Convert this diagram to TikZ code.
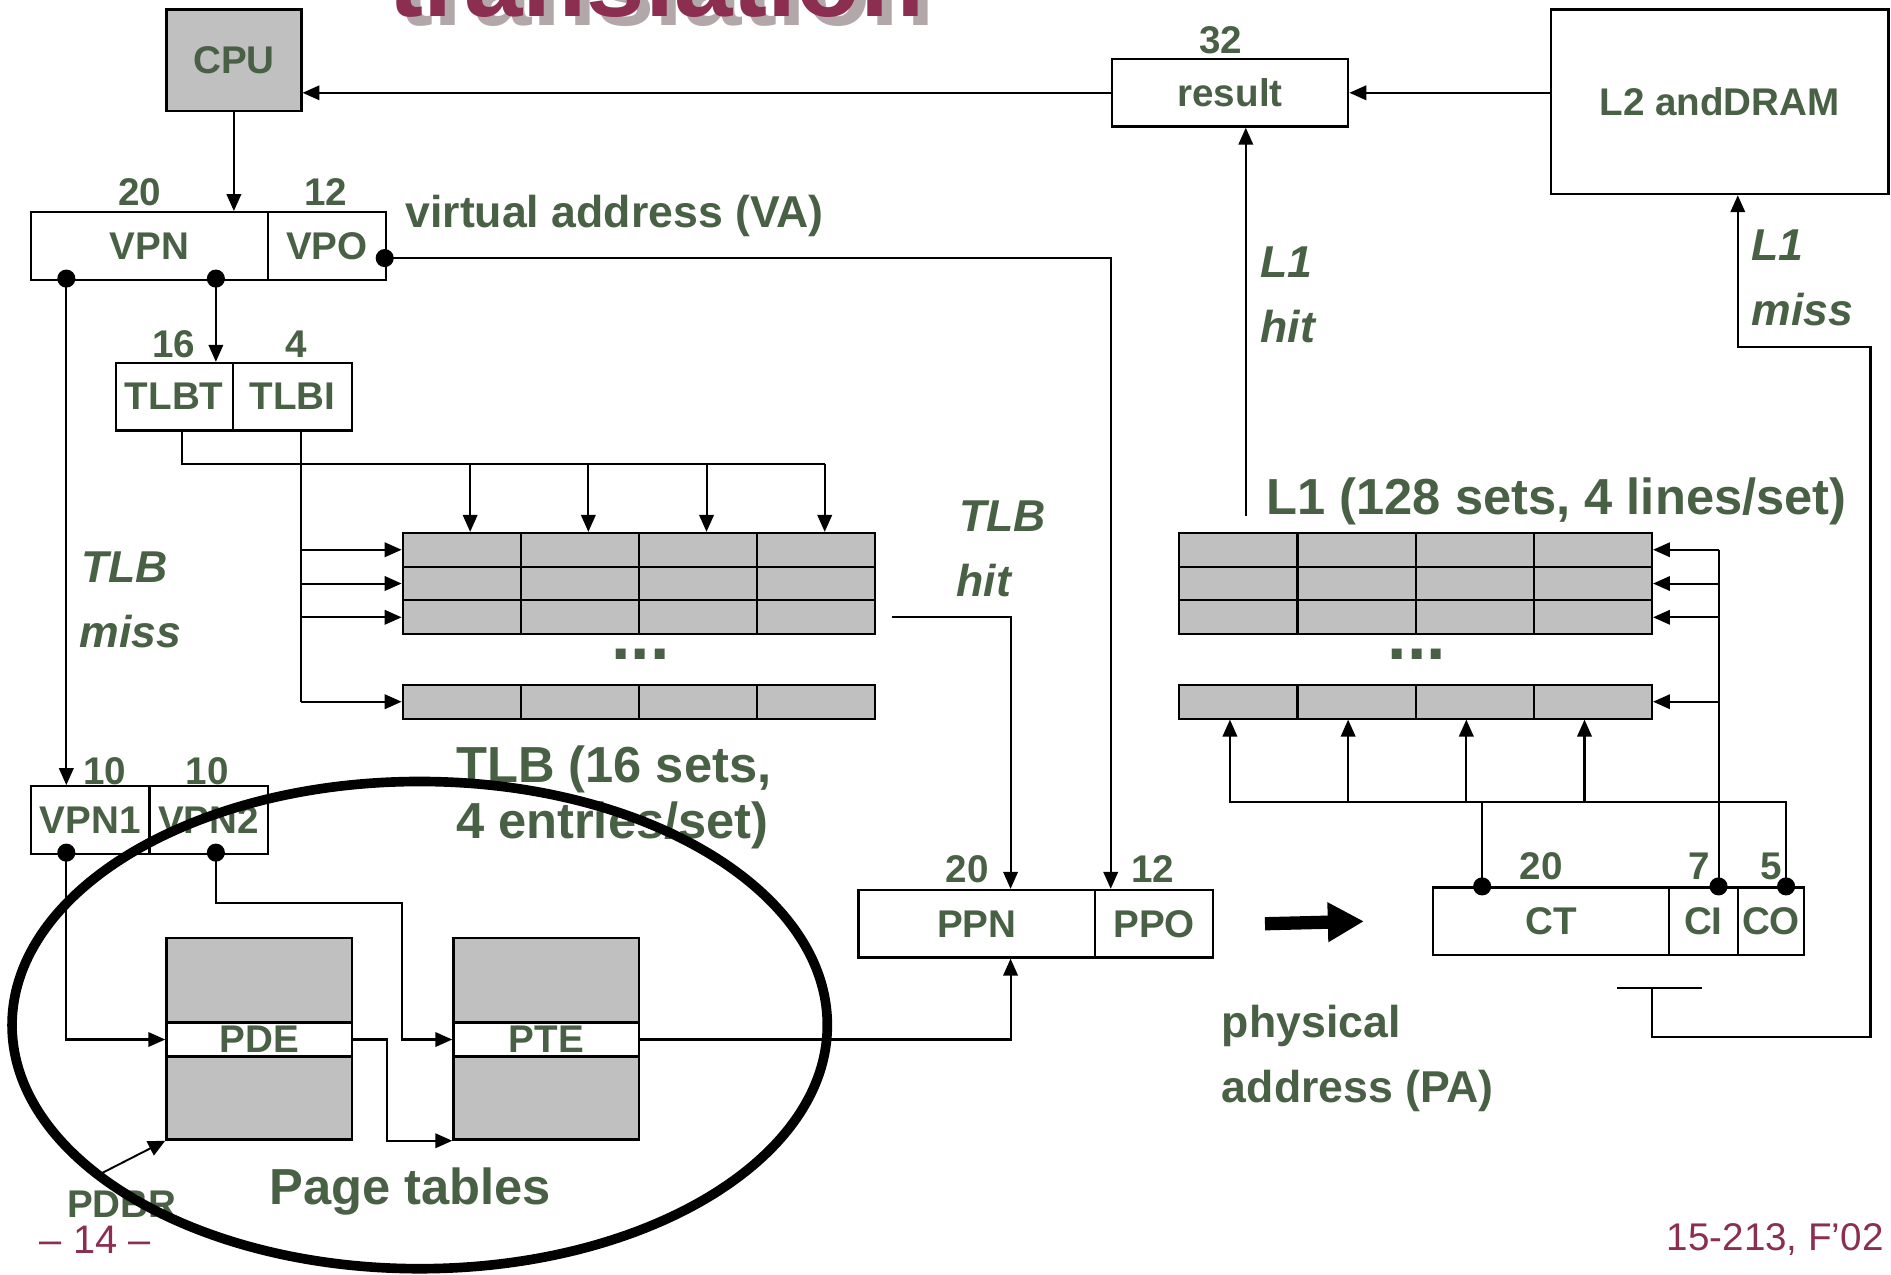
\documentclass[tikz,border=0pt]{standalone}
\usepackage{fontspec}
\setmainfont{Liberation Sans}
\usetikzlibrary{arrows.meta,calc}
\definecolor{tg}{RGB}{72,96,68}
\definecolor{cellgray}{RGB}{192,192,192}
\definecolor{maroonc}{RGB}{139,46,80}
\definecolor{shadowgray}{RGB}{178,168,170}
\newcommand\fsz[1]{\fontsize{#1}{#1}\selectfont\bfseries}
\begin{document}
\begin{tikzpicture}[x=1pt,y=-1pt,
  box/.style={draw, line width=1.9pt, inner sep=0pt, font=\fsz{32}, text=tg, anchor=north west, minimum height=56pt},
  cell/.style={draw, line width=1.7pt, fill=cellgray, minimum width=98pt, minimum height=28pt, inner sep=0pt, anchor=north west},
  lab/.style={text=tg, inner sep=0pt, font=\fsz{32}},
  labm/.style={text=tg, inner sep=0pt, font=\fsz{37}},
  labl/.style={text=tg, inner sep=0pt, font=\fsz{42}},
  labi/.style={text=tg, inner sep=0pt, font=\fsz{37}\itshape},
  ln/.style={line width=1.7pt},
  arr/.style={ln, -{Triangle[length=14pt,width=12pt]}},
  dotc/.style={fill=black}
]
\fill[white] (0,0) rectangle (1568,1057);
\useasboundingbox (0,0) rectangle (1568,1057);

% title fragment
\node[anchor=base west, inner sep=0pt, text=shadowgray, font=\fsz{87}] (titleshadow) at (330,21) {translation};
\node[anchor=base west, inner sep=0pt, text=maroonc, font=\fsz{87}] (title) at (322,14) {translation};

% top boxes
\node[box, fill=cellgray, minimum width=112pt, minimum height=84pt] (cpu) at (137,7) {CPU};
\node[box, minimum width=196pt] (result) at (921,48) {result};
\node[lab, anchor=base] (n32) at (1012,44.5) {32};
\node[box, minimum width=280pt, minimum height=153pt] (l2) at (1285,7) {L2 andDRAM};

% virtual address
\node[box, minimum width=196pt] (vpn) at (25,175) {VPN};
\node[box, minimum width=98pt] (vpo) at (221,175) {VPO};
\node[lab, anchor=base] (n20a) at (116,170.5) {20};
\node[lab, anchor=base] (n12a) at (270,170.5) {12};
\node[labm, anchor=base west] (valab) at (336,189) {virtual address (VA)};

% TLBT / TLBI
\node[box, minimum width=97pt] (tlbt) at (95,300) {TLBT};
\node[box, minimum width=99pt] (tlbi) at (192,300) {TLBI};
\node[lab, anchor=base] (n16) at (144,296.5) {16};
\node[lab, anchor=base] (n4) at (246,296.5) {4};

% TLB array
\foreach \r/\yy in {0/441,1/469,2/497,3/567}{
  \foreach \c in {0,1,2,3}{
    \node[cell] (t\r\c) at ({333+98*\c},\yy) {};
  }
}
\node[text=tg, inner sep=0pt, font=\fsz{58}, anchor=base] (tdots) at (531,547) {...};

% L1 array
\foreach \r/\yy in {0/441,1/469,2/497,3/567}{
  \foreach \c in {0,1,2,3}{
    \node[cell] (l\r\c) at ({977+98*\c},\yy) {};
  }
}
\node[text=tg, inner sep=0pt, font=\fsz{58}, anchor=base] (ldots) at (1175,547) {...};

% labels
\node[labl, anchor=base west] (l1lab) at (1050,427) {L1 (128 sets, 4 lines/set)};
\node[labi, anchor=base west] (l1hit1) at (1045,230) {L1};
\node[labi, anchor=base west] (l1hit2) at (1045,284) {hit};
\node[labi, anchor=base west] (l1miss1) at (1452,216) {L1};
\node[labi, anchor=base west] (l1miss2) at (1452,270) {miss};
\node[labi, anchor=base west] (tlbhit1) at (795,441) {TLB};
\node[labi, anchor=base west] (tlbhit2) at (793,495) {hit};
\node[labi, anchor=base west] (tlbmiss1) at (67,483) {TLB};
\node[labi, anchor=base west] (tlbmiss2) at (66,537) {miss};
\node[labl, anchor=base west] (tlblab1) at (378,649) {TLB (16 sets,};
\node[labl, anchor=base west] (tlblab2) at (378,695) {4 entries/set)};

% VPN1 / VPN2
\node[box, minimum width=98pt] (vpn1) at (25,651) {VPN1};
\node[box, minimum width=98pt] (vpn2) at (123,651) {VPN2};
\node[lab, anchor=base] (n10a) at (87,650.5) {10};
\node[lab, anchor=base] (n10b) at (172,650.5) {10};

% PPN / PPO
\node[box, minimum width=196pt] (ppn) at (711,737) {PPN};
\node[box, minimum width=98pt] (ppo) at (907,737) {PPO};
\node[lab, anchor=base] (n20b) at (802,731.5) {20};
\node[lab, anchor=base] (n12b) at (956,731.5) {12};

% CT / CI / CO
\node[box, minimum width=196pt] (ct) at (1187,735) {CT};
\node[box, minimum width=57pt] (ci) at (1383,735) {CI};
\node[box, minimum width=55pt] (co) at (1440,735) {CO};
\node[lab, anchor=base] (n20c) at (1278,729.5) {20};
\node[lab, anchor=base] (n7) at (1409,729.5) {7};
\node[lab, anchor=base] (n5) at (1469,729.5) {5};
\node[labm, anchor=base west] (pa1) at (1013,860) {physical};
\node[labm, anchor=base west] (pa2) at (1013,914) {address (PA)};

% page tables
\node[box, fill=cellgray, minimum width=154pt, minimum height=70pt] (pdetop) at (137,777) {};
\node[box, fill=white, minimum width=154pt, minimum height=28pt] (pde) at (137,847) {PDE};
\node[box, fill=cellgray, minimum width=154pt, minimum height=69pt] (pdebot) at (137,875) {};
\node[box, fill=cellgray, minimum width=154pt, minimum height=70pt] (ptetop) at (375,777) {};
\node[box, fill=white, minimum width=154pt, minimum height=28pt] (pte) at (375,847) {PTE};
\node[box, fill=cellgray, minimum width=154pt, minimum height=69pt] (ptebot) at (375,875) {};
\node[labl, anchor=base] (ptlab) at (340,999) {Page tables};
\node[lab, anchor=base] (pdbr) at (101,1009.5) {PDBR};

% footer
\node[inner sep=0pt, text=maroonc, font=\fontsize{33}{33}\selectfont, anchor=base] (pagenum) at (79,1039) {– 14 –};
\node[inner sep=0pt, text=maroonc, font=\fontsize{32}{32}\selectfont, anchor=base east] (course) at (1562,1037) {15-213, F’02};

% coordinates
\coordinate (vd1) at (55,231);
\coordinate (vd2) at (179,231);
\coordinate (vd3) at (319,214);
\coordinate (tb) at (151,385);
\coordinate (pd1) at (55,707);
\coordinate (pd2) at (179,707);
\coordinate (vj) at (333,749);
\coordinate (cd1) at (1229,735);
\coordinate (cd2) at (1425,735);
\coordinate (cd3) at (1481,735);
\coordinate (hb) at (1019,665);
\coordinate (l1h) at (1033,428);
\coordinate (tbar1) at (1341,819);
\coordinate (tbar2) at (1411,819);
\coordinate (tm) at (1370,819);
\coordinate (mj1) at (1370,860);
\coordinate (mj2) at (1551,860);
\coordinate (mj3) at (1551,288);
\coordinate (pdbrtail) at (80,975);

% connectors
\draw[arr] (result.west) -- (result.west -| cpu.east);
\draw[arr] (result.east -| l2.west) -- (result.east);
\draw[arr] (cpu.south) -- (cpu.south |- vpn.north);
\draw[arr] (vd3) -| ($(ppo.north west)+(14,0)$);
\draw[arr] (vd1) -- (vd1 |- vpn1.north);
\draw[arr] (vd2) -- (vd2 |- tlbt.north);
\draw[ln] (tlbt.south -| tb) -- (tb) -- ($(t03.north |- tb)+(7,0)$);
\foreach \c in {0,1,2,3}{
  \draw[arr] ($(t0\c.north |- tb)+(7,0)$) -- ($(t0\c.north)+(7,0)$);
}
\coordinate (tis) at ($(tlbi.south)+(7,0)$);
\draw[ln] (tis) -- (tis |- t30.west);
\foreach \r in {0,1,2,3}{
  \draw[arr] (tis |- t\r0.west) -- (t\r0.west);
}
\draw[arr] ($(t23.east)+(13,0)$) -| ($(ppn.north)+(28,0)$);
\draw[arr] (pd1) |- (pde.west);
\draw[arr] (pd2) |- (vj) |- (pte.west);
\draw[arr] (pde.east) -- ++(28,0) |- (ptebot.south west);
\draw[arr] (pte.east) -| ($(ppn.south)+(28,0)$);
\draw[line width=1.6pt, -{Triangle[length=14pt,width=13pt]}] (pdbrtail) -- (pdebot.south west);
\draw[line width=11pt, -{Triangle[length=30pt,width=31pt]}] ($(ppo.east)+(42,0)$) -- ($(ct.west)+(-56,0)$);
\draw[ln] (cd2) -- (cd2 |- l03.east);
\foreach \r in {0,1,2,3}{
  \draw[arr] (cd2 |- l\r3.east) -- (l\r3.east);
}
\draw[ln] (cd1) |- (hb);
\draw[ln] (cd3) |- (hb);
\foreach \c in {0,1,2,3}{
  \draw[arr] ($(l3\c.south |- hb)+(-7,0)$) -- ($(l3\c.south)+(-7,0)$);
}
\draw[arr] (l1h) -- (l1h |- result.south);
\draw[ln] (tbar1) -- (tbar2);
\draw[arr] (tm) -- (mj1) -- (mj2) -- (mj3) -| ($(l2.south)+(15,0)$);

% dots
\foreach \p in {vd1,vd2,vd3,pd1,pd2,cd1,cd2,cd3}{
  \fill[dotc] (\p) circle[radius=7.5];
}

% ellipse
\draw[line width=8pt] (348,850) ellipse[x radius=338, y radius=202];
\end{tikzpicture}
\end{document}
